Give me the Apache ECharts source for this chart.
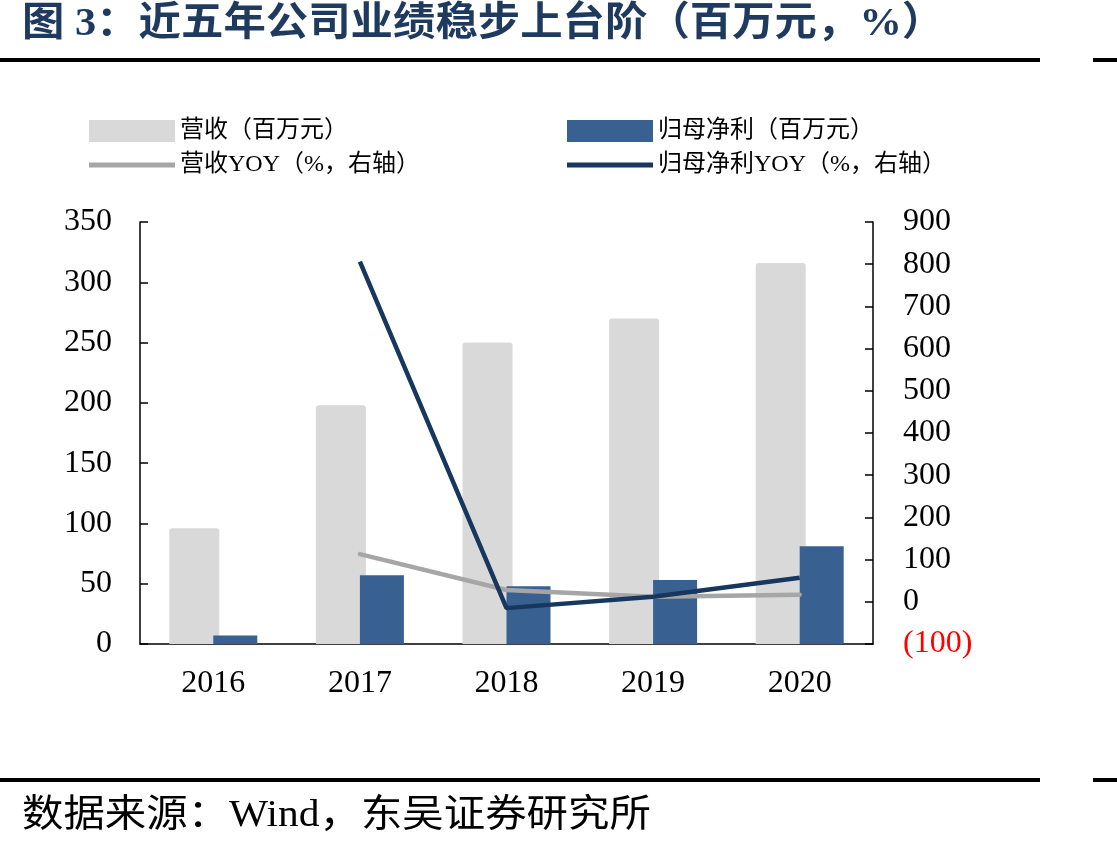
<!DOCTYPE html>
<html>
<head>
<meta charset="utf-8">
<title>近五年公司业绩稳步上台阶</title>
<script src="https://cdn.jsdelivr.net/npm/echarts@6/dist/echarts.min.js"></script>
<style>
  html, body { margin: 0; padding: 0; background: #fff; }
  #main { width: 1117px; height: 852px; }
</style>
</head>
<body>
<div id="main"></div>
<script>
// 年份
const years = ['2016', '2017', '2018', '2019', '2020']
// 营收、归母净利（百万元）
const revenue = [96, 198, 250, 270, 316]
const netProfit = [7, 57, 48, 53, 81]
// 同比（%，右轴）
const revenueYoy = [null, 113, 28, 12, 17]
const profitYoy = [null, 806, -15, 12, 57]

const seriesNames = ['营收（百万元）', '归母净利（百万元）', '营收YOY（%，右轴）', '归母净利YOY（%，右轴）']

const serif = "'Liberation Serif', 'Noto Sans CJK SC', serif"

const chart = echarts.init(document.getElementById('main'))

// 图例：每项单独定位
function legendAt (name, left, top, h) {
  return {
    data: [{ name: name, icon: 'rect' }],
    left: left,
    top: top,
    itemWidth: 86,
    itemHeight: h,
    itemGap: 0,
    textStyle: { fontFamily: serif, fontSize: 24, color: '#000' }
  }
}

const option = {
  backgroundColor: '#fff',
  animation: false,
  graphic: [
    {
      type: 'text', left: 22, top: 5, scaleX: 1.06,
      style: { text: '图 3：近五年公司业绩稳步上台阶（百万元，%）', font: "bold 40px 'Liberation Serif', 'Noto Sans CJK SC'", fill: '#1f3a5f' }
    },
    { type: 'rect', shape: { x: 0, y: 58, width: 1040, height: 4 }, style: { fill: '#000' } },
    { type: 'rect', shape: { x: 1093, y: 58, width: 24, height: 4 }, style: { fill: '#000' } },
    { type: 'rect', shape: { x: 0, y: 778, width: 1040, height: 4 }, style: { fill: '#000' } },
    { type: 'rect', shape: { x: 1093, y: 778, width: 24, height: 4 }, style: { fill: '#000' } },
    {
      type: 'text', left: 22, top: 797, scaleX: 1.09,
      style: { text: '数据来源：Wind，东吴证券研究所', font: "38px 'Liberation Serif', 'Noto Sans CJK SC'", fill: '#000' }
    }
  ],
  legend: [
    legendAt(seriesNames[0], 84, 114, 22),
    legendAt(seriesNames[1], 562, 114, 22),
    legendAt(seriesNames[2], 84, 148, 5),
    legendAt(seriesNames[3], 562, 148, 5)
  ],
  grid: { left: 140, right: 244, top: 222, bottom: 208 },
  xAxis: {
    type: 'category',
    data: years,
    axisLine: { lineStyle: { color: '#000', width: 1.5 } },
    axisTick: { inside: true, length: 10, lineStyle: { color: '#000', width: 1.5 } },
    axisLabel: { fontFamily: serif, fontSize: 32, color: '#000', margin: 24 }
  },
  yAxis: [
    {
      type: 'value', min: 0, max: 350, interval: 50, position: 'left',
      axisLine: { show: true, lineStyle: { color: '#000', width: 1.5 } },
      axisTick: { show: true, inside: true, length: 8, lineStyle: { color: '#000', width: 1.5 } },
      splitLine: { show: false },
      axisLabel: { fontFamily: serif, fontSize: 32, color: '#000', margin: 28 }
    },
    {
      type: 'value', min: -100, max: 900, interval: 100, position: 'right',
      axisLine: { show: true, lineStyle: { color: '#000', width: 1.5 } },
      axisTick: { show: true, inside: true, length: 8, lineStyle: { color: '#000', width: 1.5 } },
      splitLine: { show: false },
      axisLabel: {
        fontFamily: serif, fontSize: 32, color: '#000', margin: 30,
        formatter: v => v < 0 ? '{neg|(' + (-v) + ')}' : String(v),
        rich: { neg: { fontFamily: serif, fontSize: 32, color: '#ff0000' } }
      }
    }
  ],
  series: [
    {
      name: seriesNames[0], type: 'bar', data: revenue,
      barWidth: 50, barGap: '-12%',
      itemStyle: { color: '#d9d9d9', borderRadius: [3, 3, 0, 0] }
    },
    {
      name: seriesNames[1], type: 'bar', data: netProfit,
      barWidth: 44,
      itemStyle: { color: '#386090' }
    },
    {
      name: seriesNames[2], type: 'line', yAxisIndex: 1, data: revenueYoy,
      symbol: 'none', lineStyle: { color: '#a6a6a6', width: 4.5, cap: 'round' },
      itemStyle: { color: '#a6a6a6' }
    },
    {
      name: seriesNames[3], type: 'line', yAxisIndex: 1, data: profitYoy,
      symbol: 'none', lineStyle: { color: '#17375e', width: 4.5 },
      itemStyle: { color: '#17375e' }
    }
  ]
}

chart.setOption(option)
</script>
</body>
</html>
